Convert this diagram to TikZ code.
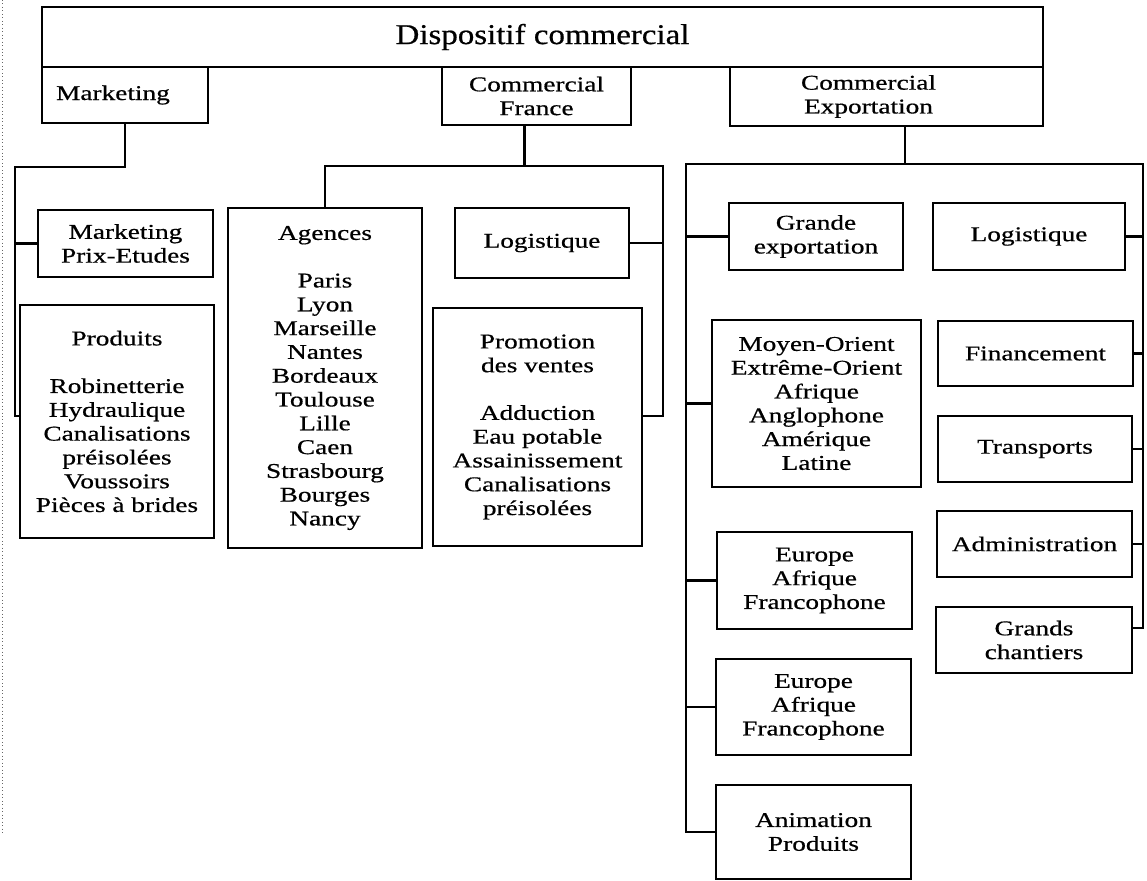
\documentclass[tikz,border=0pt]{standalone}
\usepackage{fontspec}
\setmainfont{Liberation Serif}[FakeStretch=1.3, FakeBold=0.6]
\newfontfamily\titrefont{Liberation Serif}[FakeStretch=1.15, FakeBold=0.6]
\tikzset{
  bloc/.style={draw, line width=1.9pt, inner sep=0pt, align=center},
  taille/.style 2 args={minimum width=#1*0.75pt, minimum height=#2*0.75pt},
  lien/.style={line width=1.6pt, line join=miter},
}
\begin{document}
\begin{tikzpicture}[x=0.75pt, y=-0.75pt, font=\fontsize{15.75pt}{17.85pt}\selectfont]
    \useasboundingbox (0,0) rectangle (1147,881);
    % scan edge
    \draw[dotted, line width=0.6pt, black!60] (2,0) -- (2,833);
    % top level
    \node[bloc, taille={1001}{60}] (disp) at (542.5,37) {\titrefont\fontsize{21.5pt}{24pt}\selectfont Dispositif commercial};
    \node[bloc, taille={166}{56}] (mkt) at (125,95) {Marketing\hspace*{18pt}};
    \node[bloc, taille={189}{58}] (cfr) at (536.5,96) {Commercial\\France};
    \node[bloc, taille={313}{59}] (cexp) at (886.5,96.5) {Commercial\hspace*{27pt}\\Exportation\hspace*{27pt}};
    % marketing
    \node[bloc, taille={175}{67}] (mpe) at (125.5,243.5) {Marketing\\Prix-Etudes};
    \node[bloc, taille={194}{233}] (prod) at (117,421.5) {Produits\\[17.85pt]Robinetterie\\Hydraulique\\Canalisations\\pr\'eisol\'ees\\Voussoirs\\Pi\`eces \`a brides};
    % commercial France
    \node[bloc, taille={194}{340}] (agen) at (325,378) {Agences\\[17.85pt]Paris\\Lyon\\Marseille\\Nantes\\Bordeaux\\Toulouse\\Lille\\Caen\\Strasbourg\\Bourges\\Nancy};
    \node[bloc, taille={174}{70}] (logf) at (542,243) {Logistique};
    \node[bloc, taille={209}{238}] (promo) at (537.5,427) {Promotion\\des ventes\\[17.85pt]Adduction\\Eau potable\\Assainissement\\Canalisations\\pr\'eisol\'ees};
    % commercial exportation, left column
    \node[bloc, taille={174}{67}] (grexp) at (816,236.5) {Grande\\exportation};
    \node[bloc, taille={209}{167}] (moyor) at (816.5,403.5) {Moyen-Orient\\Extr\^eme-Orient\\Afrique\\Anglophone\\Am\'erique\\Latine};
    \node[bloc, taille={195}{97}] (eur1) at (814.5,580.5) {Europe\\Afrique\\Francophone};
    \node[bloc, taille={195}{96}] (eur2) at (813.5,707) {Europe\\Afrique\\Francophone};
    \node[bloc, taille={195}{94}] (anim) at (813.5,832) {Animation\\Produits};
    % commercial exportation, right column
    \node[bloc, taille={192}{67}] (logx) at (1029,236.5) {Logistique};
    \node[bloc, taille={195}{65}] (fin) at (1035.5,353.5) {Financement};
    \node[bloc, taille={194}{66}] (trans) at (1035,449) {Transports};
    \node[bloc, taille={195}{66}] (admin) at (1034.5,544) {Administration};
    \node[bloc, taille={196}{66}] (grch) at (1034,640) {Grands\\chantiers};
    % bus coordinates
    \coordinate (mkbus) at (15,167);
    \coordinate (frbus) at (663,166);
    \coordinate (exg) at (686,164);
    \coordinate (exd) at (1143,164);
    % links marketing
    \draw[lien] (mkt.south) |- (mkbus) |- ([yshift=4pt]prod.west);
    \draw[lien] (mpe.west) -- (mpe.west -| mkbus);
    % links France
    \draw[lien] ([xshift=-9pt]cfr.south) -- ([xshift=-9pt]cfr.south |- frbus);
    \draw[lien] (agen.north) |- (frbus) |- ([yshift=8pt]promo.east);
    \draw[lien] (logf.east) -- (logf.east -| frbus);
    % links exportation
    \draw[lien] ([xshift=14pt]cexp.south) -- ([xshift=14pt]cexp.south |- exg);
    \draw[lien] (anim.west) -| (exg) -- (exd) |- ([yshift=9pt]grch.east);
    \foreach \b in {grexp,moyor,eur1,eur2}
      \draw[lien] (\b.west) -- (\b.west -| exg);
    \foreach \b in {logx,fin,trans,admin}
      \draw[lien] (\b.east) -- (\b.east -| exd);
  \end{tikzpicture}
\end{document}
